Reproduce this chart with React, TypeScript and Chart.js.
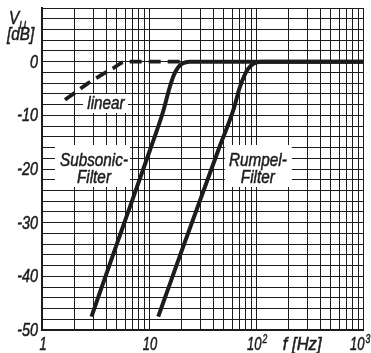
import React, { useEffect, useRef } from 'react';
import { Chart, registerables } from 'chart.js';

Chart.register(...registerables);

// ---- data ----
const linearFreq = [1.64, 2.2, 2.7, 3.5, 4.64, 6, 21];
const linearGain = [-7.1, -5.3, -4.0, -2.6, -1.2, 0, 0];

const subsonicFreq = [2.9, 5, 10.2, 13.6, 15.5, 17, 18.5, 20.5, 24, 1000];
const subsonicGain = [-47.5, -34.0, -16.5, -9.2, -5.0, -2.6, -1.2, -0.35, 0, 0];

const rumpelFreq = [12.2, 20, 44.4, 61.9, 70, 77, 84, 95, 112, 1000];
const rumpelGain = [-47.5, -35.5, -16.5, -8.8, -5.0, -2.8, -1.4, -0.35, 0, 0];

const yTickValues = [0, -10, -20, -30, -40, -50];
const yTickLabels = ['0', '-10', '-20', '-30', '-40', '-50'];

const xTickValues = [1, 10, 100, 1000];
const xTickBase = ['1', '10', '10', '10'];
const xTickExp = ['', '', '2', '3'];

const xMin = 1;
const xMax = 1000;
const yMin = -50;
const yMax = 10;
const yGridStep = 2;

const xTitle = 'f [Hz]';
const yTitleMain = 'V';
const yTitleSub = 'U';
const yTitleUnit = '[dB]';

const labelLinear = 'linear';
const labelSubsonic = ['Subsonic-', 'Filter'];
const labelRumpel = ['Rumpel-', 'Filter'];

const FONT = "'Liberation Sans', Arial, sans-serif";
const INK = '#1c1c1c';
const WORD_SX = 0.85;
const YNUM_SX = 0.8;
const XNUM_SX = 0.72;

function pts(xs: number[], ys: number[]) {
  return xs.map((x, i) => ({ x, y: ys[i] }));
}

function txt(
  ctx: CanvasRenderingContext2D,
  s: string,
  x: number,
  y: number,
  size: number,
  sx: number,
  align: CanvasTextAlign,
) {
  ctx.save();
  ctx.font = `italic ${size}px ${FONT}`;
  ctx.textAlign = align;
  ctx.textBaseline = 'middle';
  ctx.fillStyle = INK;
  ctx.strokeStyle = INK;
  ctx.lineWidth = 0.5;
  ctx.translate(x, y);
  ctx.scale(sx, 1);
  ctx.fillText(s, 0, 0);
  ctx.strokeText(s, 0, 0);
  ctx.restore();
}

function tw(ctx: CanvasRenderingContext2D, s: string, size: number, sx: number) {
  ctx.save();
  ctx.font = `italic ${size}px ${FONT}`;
  const w = ctx.measureText(s).width * sx;
  ctx.restore();
  return w;
}

const textPlugin = {
  id: 'textPlugin',
  beforeDatasetsDraw(chart: any) {
    const ctx = chart.ctx as CanvasRenderingContext2D;
    const xs = chart.scales.x;
    const ys = chart.scales.y;
    ctx.save();

    const box = (x0: number, y0: number, x1: number, y1: number) => {
      ctx.save();
      ctx.fillStyle = '#ffffff';
      ctx.fillRect(x0, y0, x1 - x0, y1 - y0);
      ctx.restore();
    };
    // "linear"
    {
      const cx = xs.getPixelForValue(3.96);
      const cy = ys.getPixelForValue(-7.7);
      box(cx - 23, cy - 9, cx + 22, cy + 10);
      txt(ctx, labelLinear, cx, cy + 1, 18, WORD_SX, 'center');
    }
    // Subsonic-Filter
    {
      const cx = xs.getPixelForValue(3.06);
      const cy = ys.getPixelForValue(-20);
      box(cx - 39, cy - 24, cx + 36, cy + 18);
      txt(ctx, labelSubsonic[0], cx, cy - 8, 18, WORD_SX, 'center');
      txt(ctx, labelSubsonic[1], cx, cy + 9, 18, WORD_SX, 'center');
    }
    // Rumpel-Filter
    {
      const cx = xs.getPixelForValue(104);
      const cy = ys.getPixelForValue(-20);
      box(cx - 33, cy - 24, cx + 34, cy + 18);
      txt(ctx, labelRumpel[0], cx, cy - 8, 18, WORD_SX, 'center');
      txt(ctx, labelRumpel[1], cx, cy + 9, 18, WORD_SX, 'center');
    }
    ctx.restore();
  },
  afterDraw(chart: any) {
    const ctx = chart.ctx as CanvasRenderingContext2D;
    const xs = chart.scales.x;
    const ys = chart.scales.y;
    const area = chart.chartArea;

    // y tick labels
    yTickValues.forEach((v, i) => {
      txt(ctx, yTickLabels[i], area.left - 4, ys.getPixelForValue(v) + 1, 18, YNUM_SX, 'right');
    });

    // x tick labels
    const ly = area.bottom + 15;
    xTickValues.forEach((v, i) => {
      const px = xs.getPixelForValue(v);
      const base = xTickBase[i];
      const exp = xTickExp[i];
      if (!exp) {
        txt(ctx, base, px + 1, ly, 18, XNUM_SX, 'center');
      } else {
        const bw = tw(ctx, base, 18, XNUM_SX);
        const start = i === xTickValues.length - 1 ? px - 13 : px - 9;
        txt(ctx, base, start, ly, 18, XNUM_SX, 'left');
        txt(ctx, exp, start + bw + 1, ly - 5, 12, XNUM_SX, 'left');
      }
    });

    // x title
    txt(ctx, xTitle, xs.getPixelForValue(270), ly, 18, 0.92, 'center');

    // y title
    txt(ctx, yTitleMain, 9, 19, 18, WORD_SX, 'left');
    const vw = tw(ctx, yTitleMain, 18, WORD_SX);
    txt(ctx, yTitleSub, 9 + vw, 26, 11, WORD_SX, 'left');
    txt(ctx, yTitleUnit, 7, 35, 18, WORD_SX, 'left');
  },
};

export default function App() {
  const canvasRef = useRef<HTMLCanvasElement | null>(null);

  useEffect(() => {
    if (!canvasRef.current) return;
    const lineBase = {
      borderColor: INK,
      pointRadius: 0,
      fill: false,
      cubicInterpolationMode: 'monotone' as const,
      borderJoinStyle: 'round' as const,
      borderCapStyle: 'butt' as const,
    };
    const chart = new Chart(canvasRef.current, {
      type: 'line',
      data: {
        datasets: [
          { ...lineBase, label: 'linear', data: pts(linearFreq, linearGain), borderWidth: 3.8, borderDash: [12, 7] },
          { ...lineBase, label: 'Subsonic-Filter', data: pts(subsonicFreq, subsonicGain), borderWidth: 4 },
          { ...lineBase, label: 'Rumpel-Filter', data: pts(rumpelFreq, rumpelGain), borderWidth: 4 },
        ],
      },
      options: {
        animation: false,
        responsive: false,
        devicePixelRatio: 1,
        layout: { padding: { left: 42, top: 8, right: 8, bottom: 23 } },
        plugins: {
          legend: { display: false },
          tooltip: { enabled: false },
          title: { display: false },
        },
        scales: {
          x: {
            type: 'logarithmic',
            min: xMin,
            max: xMax,
            ticks: { display: false },
            grid: { color: INK, lineWidth: 1, drawTicks: false },
            border: { display: true, color: INK, width: 2 },
            afterBuildTicks: (scale: any) => {
              const t: { value: number }[] = [];
              for (let d = xMin; d < xMax; d *= 10) {
                for (let m = 1; m < 10; m++) t.push({ value: d * m });
              }
              t.push({ value: xMax });
              scale.ticks = t;
            },
          },
          y: {
            type: 'linear',
            min: yMin,
            max: yMax,
            ticks: { display: false },
            grid: { color: INK, lineWidth: 1, drawTicks: false },
            border: { display: true, color: INK, width: 2 },
            afterBuildTicks: (scale: any) => {
              const t: { value: number }[] = [];
              for (let v = yMin; v <= yMax; v += yGridStep) t.push({ value: v });
              scale.ticks = t;
            },
          },
        },
      },
      plugins: [textPlugin],
    });
    return () => chart.destroy();
  }, []);

  return (
    <div style={{ position: 'fixed', left: 0, top: 0, width: 371, height: 353, background: '#fff' }}>
      <canvas ref={canvasRef} width={371} height={353} style={{ display: 'block' }} />
    </div>
  );
}
